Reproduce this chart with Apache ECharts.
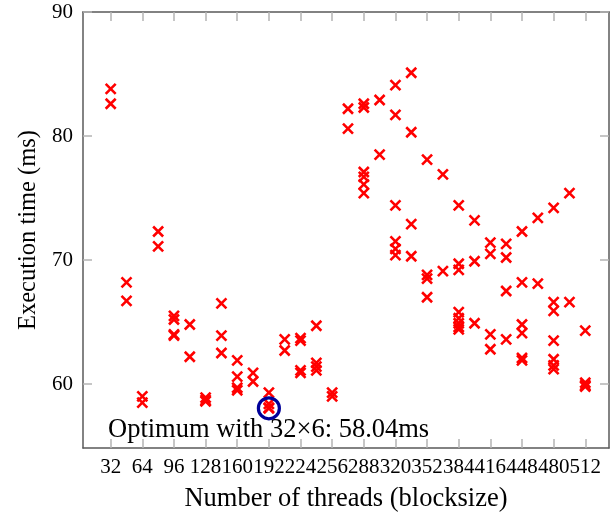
<!DOCTYPE html>
<html>
<head>
    <meta charset="utf-8">
    <title>Execution time vs threads</title>
    <script type="text/javascript" src="https://cdn.jsdelivr.net/npm/echarts@6/dist/echarts.min.js"></script>
    <style>
        html, body { margin: 0; padding: 0; background: #fff; }
    </style>
</head>

<body>
    <div id="main" style="width:610px;height:515px;"></div>
    <script type="text/javascript">
    // measured runs: blocksize and time (ms)
    var threads = [
        32, 32,
        48, 48,
        64, 64,
        80, 80,
        96, 96, 96, 96,
        112, 112,
        128, 128, 128,
        144, 144, 144,
        160, 160, 160, 160,
        176, 176,
        192, 192, 192, 192,
        208, 208,
        224, 224, 224, 224,
        240, 240, 240, 240,
        256, 256,
        272, 272,
        288, 288, 288, 288, 288, 288,
        304, 304,
        320, 320, 320, 320, 320, 320,
        336, 336, 336, 336,
        352, 352, 352, 352,
        368, 368,
        384, 384, 384, 384, 384, 384, 384, 384,
        400, 400, 400,
        416, 416, 416, 416,
        432, 432, 432, 432,
        448, 448, 448, 448, 448, 448,
        464, 464,
        480, 480, 480, 480, 480, 480, 480,
        496, 496,
        512, 512, 512, 512
    ];
    var times = [
        83.8, 82.6,
        68.2, 66.7,
        59.0, 58.5,
        72.3, 71.1,
        65.5, 65.2, 64.0, 63.9,
        64.8, 62.2,
        58.9, 58.7, 58.6,
        66.5, 63.9, 62.5,
        61.9, 60.6, 59.7, 59.5,
        60.9, 60.2,
        59.3, 58.4, 58.1, 58.04,
        63.6, 62.7,
        63.7, 63.5, 61.1, 60.9,
        64.7, 61.7, 61.4, 61.1,
        59.3, 59.0,
        82.2, 80.6,
        82.6, 82.3, 77.1, 76.7, 76.1, 75.4,
        82.9, 78.5,
        84.1, 81.7, 74.4, 71.5, 70.9, 70.4,
        85.1, 80.3, 72.9, 70.3,
        78.1, 68.8, 68.5, 67.0,
        76.9, 69.1,
        74.4, 69.7, 69.2, 65.8, 65.3, 64.9, 64.6, 64.4,
        73.2, 69.9, 64.9,
        71.4, 70.5, 64.0, 62.8,
        71.3, 70.2, 67.5, 63.6,
        72.3, 68.2, 64.8, 64.1, 62.1, 61.9,
        73.4, 68.1,
        74.2, 66.6, 65.9, 63.5, 62.0, 61.5, 61.2,
        75.4, 66.6,
        64.3, 60.1, 59.9, 59.8
    ];
    var xTicks = [32, 64, 96, 128, 160, 192, 224, 256, 288, 320, 352, 384, 416, 448, 480, 512];
    var yTicks = [60, 70, 80, 90];
    var optimum = [192, 58.04];
    var optimumText = 'Optimum with 32\u00d76: 58.04ms';

    var points = [];
    for (var i = 0; i < threads.length; i++) {
        points.push([threads[i], times[i]]);
    }

    var font = 'Liberation Serif';
    var axisColor = '#5a5a5a';
    var tickColor = '#b4b4b4';

    function xAxisOf(pos, withLabels) {
        return {
            type: 'value',
            position: pos,
            min: 4,
            max: 536,
            splitLine: { show: false },
            axisLine: { show: true, onZero: false, lineStyle: { color: axisColor, width: 1.5 } },
            axisTick: { show: true, inside: true, length: 9, customValues: xTicks,
                        lineStyle: { color: tickColor, width: 1.5 } },
            axisLabel: { show: withLabels, customValues: xTicks, margin: 9, hideOverlap: false,
                         color: '#000', fontFamily: font, fontSize: 21 },
            name: withLabels ? 'Number of threads (blocksize)' : '',
            nameLocation: 'middle',
            nameGap: 38,
            nameTextStyle: { color: '#000', fontFamily: font, fontSize: 26.5 }
        };
    }
    function yAxisOf(pos, withLabels) {
        return {
            type: 'value',
            position: pos,
            min: 54.84,
            max: 90,
            splitLine: { show: false },
            axisLine: { show: true, onZero: false, lineStyle: { color: axisColor, width: 1.5 } },
            axisTick: { show: true, inside: true, length: 9, customValues: yTicks,
                        lineStyle: { color: tickColor, width: 1.5 } },
            axisLabel: { show: withLabels, customValues: yTicks, margin: 10,
                         color: '#000', fontFamily: font, fontSize: 21 },
            name: withLabels ? 'Execution time (ms)' : '',
            nameLocation: 'middle',
            nameRotate: 90,
            nameGap: 42,
            nameTextStyle: { color: '#000', fontFamily: font, fontSize: 24.5 }
        };
    }

    var myChart = echarts.init(document.getElementById('main'), null, { renderer: 'canvas' });
    var option = {
        animation: false,
        backgroundColor: '#fff',
        grid: { left: 83, right: 1, top: 12, bottom: 67, outerBoundsMode: 'none', containLabel: false },
        xAxis: [xAxisOf('bottom', true), xAxisOf('top', false)],
        yAxis: [yAxisOf('left', true), yAxisOf('right', false)],
        graphic: [{
            type: 'text',
            left: 108,
            top: 417,
            style: { text: optimumText, fill: '#000', font: '26.5px "Liberation Serif"' }
        }],
        series: [{
            name: 'runs',
            type: 'scatter',
            xAxisIndex: 0,
            yAxisIndex: 0,
            symbol: 'path://M0,0L10,10M10,0L0,10',
            symbolSize: 10,
            itemStyle: { color: 'none', borderColor: '#ff0000', borderWidth: 2.6, opacity: 1 },
            data: points
        }, {
            name: 'optimum',
            type: 'scatter',
            xAxisIndex: 0,
            yAxisIndex: 0,
            symbol: 'circle',
            symbolSize: 21,
            itemStyle: { color: 'none', borderColor: '#00009a', borderWidth: 3.2, opacity: 1 },
            data: [optimum],
            z: 3
        }]
    };
    myChart.setOption(option);
    </script>
</body>
</html>
